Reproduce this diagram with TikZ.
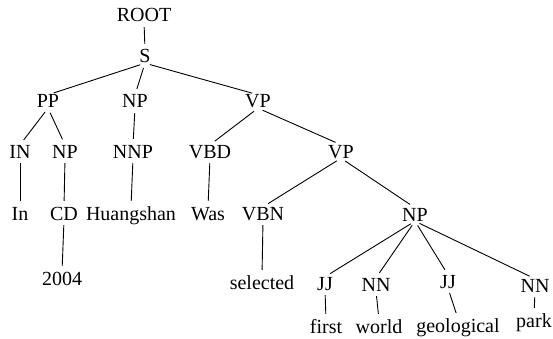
\documentclass[tikz,border=0pt]{standalone}
\usepackage{fontspec}
\setmainfont{Liberation Serif}
\begin{document}
\begin{tikzpicture}[x=1pt,y=-1pt,
  lab/.style={anchor=base,inner sep=0pt,text height=13pt,text depth=0pt,font=\fontsize{20}{22}\selectfont},
  br/.style={line width=0.9pt,shorten <=5pt,shorten >=6pt}]
\useasboundingbox (0,0) rectangle (553,339);
% nonterminal and word nodes, placed at their baselines
\node[lab] (root) at (144,22) {ROOT};
\node[lab] (s) at (145,63) {S};
\node[lab] (pp) at (48,108) {PP};
\node[lab] (np1) at (135,108) {NP};
\node[lab] (vp1) at (258,108) {VP};
\node[lab] (in) at (20,158) {IN};
\node[lab] (np2) at (65,158) {NP};
\node[lab] (nnp) at (133,158) {NNP};
\node[lab] (vbd) at (210,158) {VBD};
\node[lab] (vp2) at (341,158) {VP};
\node[lab] (win) at (20,220) {In};
\node[lab] (cd) at (64,220) {CD};
\node[lab] (whs) at (131,220) {Huangshan};
\node[lab] (wwas) at (208,220) {Was};
\node[lab] (vbn) at (263,220) {VBN};
\node[lab] (np3) at (415,221) {NP};
\node[lab] (w2004) at (62,285) {2004};
\node[lab] (wsel) at (262,289) {selected};
\node[lab] (jj1) at (325,290) {JJ};
\node[lab] (nn1) at (376,291) {NN};
\node[lab] (jj2) at (448,288) {JJ};
\node[lab] (nn2) at (535,292) {NN};
\node[lab] (wfirst) at (326,333) {first};
\node[lab] (wworld) at (379,333) {world};
\node[lab] (wgeo) at (458,332) {geological};
\node[lab] (wpark) at (534,327) {park};
% branches
\draw[br] (root.south) -- (s.north);
\draw[br] (s.south) -- (pp.north);
\draw[br] (s.south) -- (np1.north);
\draw[br] (s.south) -- (vp1.north);
\draw[br] (pp.south) -- (in.north);
\draw[br] (pp.south) -- (np2.north);
\draw[br] (np1.south) -- (nnp.north);
\draw[br] (vp1.south) -- (vbd.north);
\draw[br] (vp1.south) -- (vp2.north);
\draw[br] (in.south) -- (win.north);
\draw[br] (np2.south) -- (cd.north);
\draw[br] (nnp.south) -- (whs.north);
\draw[br] (vbd.south) -- (wwas.north);
\draw[br] (vp2.south) -- (vbn.north);
\draw[br] (vp2.south) -- (np3.north);
\draw[br] (cd.south) -- (w2004.north);
\draw[br] (vbn.south) -- (wsel.north);
\draw[br] (np3.south) -- (jj1.north);
\draw[br] (np3.south) -- (nn1.north);
\draw[br] (np3.south) -- (jj2.north);
\draw[br] (np3.south) -- (nn2.north);
\draw[br] (jj1.south) -- (wfirst.north);
\draw[br] (nn1.south) -- (wworld.north);
\draw[br] (jj2.south) -- (wgeo.north);
\draw[br] (nn2.south) -- (wpark.north);
\end{tikzpicture}
\end{document}
